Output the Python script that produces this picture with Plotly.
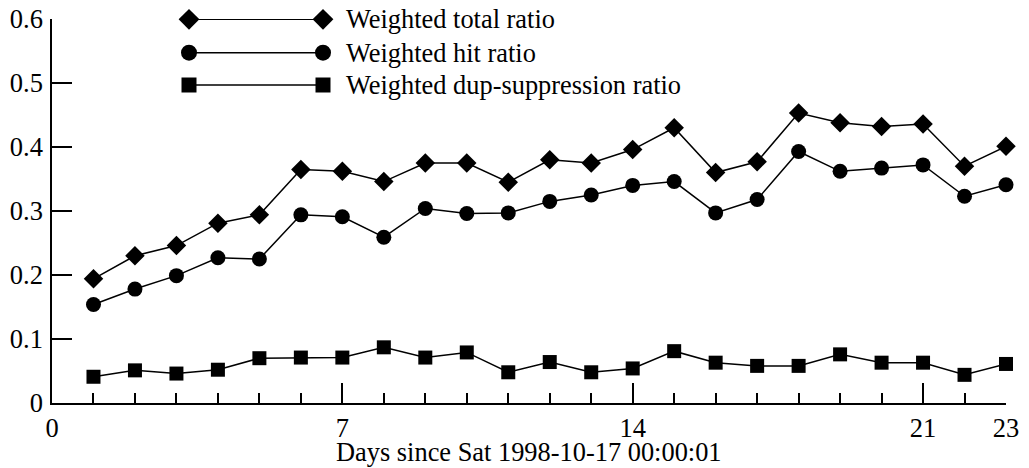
import plotly.graph_objects as go

days = list(range(1, 24))
total_ratio = [0.194, 0.230, 0.246, 0.281, 0.294, 0.365, 0.362, 0.346, 0.375, 0.375, 0.345,
               0.380, 0.375, 0.396, 0.430, 0.360, 0.377, 0.453, 0.438, 0.432, 0.436, 0.370, 0.401]
hit_ratio = [0.154, 0.178, 0.199, 0.227, 0.225, 0.294, 0.291, 0.259, 0.304, 0.296, 0.297,
             0.315, 0.325, 0.340, 0.346, 0.297, 0.318, 0.393, 0.362, 0.367, 0.372, 0.323, 0.341]
dup_ratio = [0.041, 0.051, 0.046, 0.052, 0.070, 0.071, 0.071, 0.087, 0.071, 0.079, 0.048,
             0.064, 0.048, 0.054, 0.081, 0.063, 0.058, 0.058, 0.076, 0.063, 0.063, 0.044, 0.061]
series_names = ["Weighted total ratio", "Weighted hit ratio", "Weighted dup-suppression ratio"]
x_tickvals = [0, 7, 14, 21, 23]
y_tickvals = [0, 0.1, 0.2, 0.3, 0.4, 0.5, 0.6]

FONT = "Liberation Serif"
symbols = ["diamond", "circle", "square"]
sizes = [15, 15, 14]
series = [total_ratio, hit_ratio, dup_ratio]

W, H = 1029, 468
L, R, T, B = 52, 23, 19, 65
PW, PH = W - L - R, H - T - B

fig = go.Figure()
for vals, sym, sz, name in zip(series, symbols, sizes, series_names):
    fig.add_trace(go.Scatter(
        x=days, y=vals, mode="lines+markers", name=name,
        line=dict(color="black", width=1.5),
        marker=dict(symbol=sym, size=sz, color="black"),
        cliponaxis=False, showlegend=False))

# custom legend drawn on an overlay axis measured in plot pixels
leg_y = [0.3, 33.7, 66]
for ly, sym, sz, name in zip(leg_y, symbols, sizes, series_names):
    fig.add_trace(go.Scatter(
        x=[137, 271], y=[ly, ly], mode="lines+markers",
        line=dict(color="black", width=1.5),
        marker=dict(symbol=sym, size=sz + 1, color="black"),
        xaxis="x2", yaxis="y2", cliponaxis=False, showlegend=False, hoverinfo="skip"))
    fig.add_annotation(x=292, y=ly, xref="x2", yref="y2", text=name,
                       showarrow=False, xanchor="left", yanchor="middle",
                       font=dict(family=FONT, size=26.4, color="black"))

fig.add_annotation(x=0.5, y=-0.128, xref="paper", yref="paper",
                   text="Days since Sat 1998-10-17 00:00:01", showarrow=False,
                   xanchor="center", yanchor="middle",
                   font=dict(family=FONT, size=26.4, color="black"))

fig.update_layout(
    width=W, height=H,
    margin=dict(l=L, r=R, t=T, b=B, autoexpand=False),
    paper_bgcolor="white", plot_bgcolor="white",
    font=dict(family=FONT, size=26.5, color="black"),
    xaxis=dict(range=[0, 23], tickvals=x_tickvals, ticktext=[str(v) for v in x_tickvals],
               ticks="inside", ticklen=20, tickwidth=1.5, tickcolor="black",
               showline=True, linecolor="black", linewidth=1.5,
               showgrid=False, zeroline=False, automargin=False,
               ticklabeloverflow="allow",
               minor=dict(ticks="inside", ticklen=10, tickwidth=1.5, tickcolor="black",
                          dtick=1, tick0=0, showgrid=False),
               ticklabelstandoff=0),
    yaxis=dict(range=[0, 0.6], tickvals=y_tickvals, ticktext=["0", "0.1", "0.2", "0.3", "0.4", "0.5", "0.6"],
               ticks="inside", ticklen=20, tickwidth=1.5, tickcolor="black",
               showline=True, linecolor="black", linewidth=1.5, automargin=False,
               ticklabeloverflow="allow",
               showgrid=False, zeroline=False, ticklabelstandoff=2),
    xaxis2=dict(overlaying="x", range=[0, PW], visible=False, fixedrange=True),
    yaxis2=dict(overlaying="y", range=[PH, 0], visible=False, fixedrange=True),
    showlegend=False,
)

# remove the browser's default 8px page margin so the figure fills the window
fig.write_html("out.html", config={"displayModeBar": False},
               post_script="document.body.style.margin='0';document.body.style.overflow='hidden';")
